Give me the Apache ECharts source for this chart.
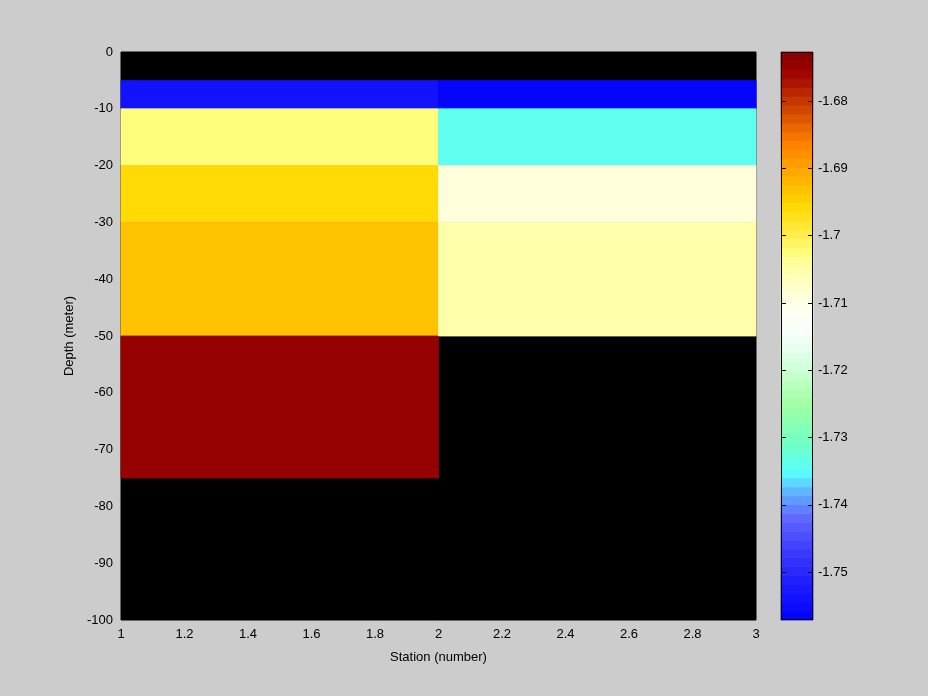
<!DOCTYPE html>
<html>
<head>
<meta charset="utf-8">
<script src="https://cdn.jsdelivr.net/npm/echarts@6/dist/echarts.min.js"></script>
<style>
html,body{margin:0;padding:0;background:#cccccc;}
#chart{width:928px;height:696px;}
</style>
</head>
<body>
<div id="chart"></div>
<script>
// ---- data ----
const stations = [1, 2, 3];
const depths = [0, -5, -10, -20, -30, -50, -75, -100];
// value at each depth (cell from this depth down to next depth), per station column
const tempStation1 = [null, -1.7537, -1.7027, -1.6955, -1.6938, -1.6748, null, null];
const tempStation2 = [null, -1.7567, -1.7340, -1.7090, -1.7056, null, null, null];
const colorLimits = [-1.7571, -1.6727];
const colorbarTicks = [-1.75, -1.74, -1.73, -1.72, -1.71, -1.70, -1.69, -1.68];
const xTickLabels = ['1', '1.2', '1.4', '1.6', '1.8', '2', '2.2', '2.4', '2.6', '2.8', '3'];

// ---- colormap (style) ----
const cmapPos = [0.00, 0.08, 0.14, 0.18, 0.22, 0.26, 0.31, 0.38, 0.45, 0.50, 0.55, 0.62, 0.645, 0.675, 0.73, 0.78, 0.84, 0.89, 0.92, 0.95, 0.97, 1.00];
const cmapCol = ['#0000ff', '#2424ff', '#4848ff', '#6068ff', '#60a8ff', '#58ffff', '#70ffc4', '#a0ffa4', '#d4ffdc', '#f4fffa', '#fffff0', '#ffffa8', '#ffff80', '#fff050', '#ffd800', '#ffb000', '#ff8000', '#d85000', '#c03000', '#aa1000', '#990000', '#880000'];
const NLEV = 64;
function hex2rgb(h){return [parseInt(h.slice(1,3),16),parseInt(h.slice(3,5),16),parseInt(h.slice(5,7),16)];}
const palette = [];
for (let k = 0; k < NLEV; k++) {
  const t = (k + 0.5) / NLEV;
  let i = 0;
  while (i < cmapPos.length - 2 && t > cmapPos[i + 1]) i++;
  const f = (t - cmapPos[i]) / (cmapPos[i + 1] - cmapPos[i]);
  const a = hex2rgb(cmapCol[i]), b = hex2rgb(cmapCol[i + 1]);
  const c = a.map((x, j) => Math.round(x + (b[j] - x) * f));
  palette.push('rgb(' + c.join(',') + ')');
}
function colorOf(v){
  const t = (v - colorLimits[0]) / (colorLimits[1] - colorLimits[0]);
  const idx = Math.max(0, Math.min(NLEV - 1, Math.floor(t * NLEV)));
  return palette[idx];
}

// ---- build cells ----
const columns = [tempStation1, tempStation2];
const cells = [];
for (let i = 0; i < columns.length; i++) {
  for (let j = 0; j < depths.length - 1; j++) {
    const v = columns[i][j];
    if (v === null) continue;
    cells.push([stations[i], stations[i + 1], depths[j], depths[j + 1], v]);
  }
}
const bins = [];
for (let k = 0; k < NLEV; k++) {
  const lo = colorLimits[0] + k * (colorLimits[1] - colorLimits[0]) / NLEV;
  const hi = colorLimits[0] + (k + 1) * (colorLimits[1] - colorLimits[0]) / NLEV;
  bins.push([0, 1, lo, hi, k]);
}

function rectItem(params, api, fill){
  const p0 = api.coord([api.value(0), api.value(2)]);
  const p1 = api.coord([api.value(1), api.value(3)]);
  return {
    type: 'rect',
    shape: {
      x: Math.min(p0[0], p1[0]), y: Math.min(p0[1], p1[1]),
      width: Math.abs(p1[0] - p0[0]), height: Math.abs(p1[1] - p0[1])
    },
    style: { fill: fill, stroke: fill, lineWidth: 0.8 }
  };
}

const FONT = 'Liberation Sans';
const chart = echarts.init(document.getElementById('chart'), null, {renderer: 'canvas'});
chart.setOption({
  backgroundColor: '#cccccc',
  animation: false,
  textStyle: { fontFamily: FONT },
  grid: [
    { left: 121, top: 52, width: 635, height: 568, show: true, backgroundColor: '#000000', borderColor: '#000000', borderWidth: 1 },
    { left: 781, top: 52, width: 32, height: 568, show: false }
  ],
  xAxis: [
    {
      type: 'value', gridIndex: 0, min: 1, max: 3, interval: 0.2,
      name: 'Station (number)', nameLocation: 'middle', nameGap: 31,
      nameTextStyle: { color: '#000', fontSize: 13, fontFamily: FONT },
      axisLine: { show: false }, splitLine: { show: false },
      axisTick: { show: false },
      axisLabel: { color: '#000', fontSize: 13, fontFamily: FONT, margin: 8,
        formatter: (v) => xTickLabels[Math.round((v - 1) / 0.2)] }
    },
    { type: 'value', gridIndex: 1, min: 0, max: 1, show: false }
  ],
  yAxis: [
    {
      type: 'value', gridIndex: 0, min: -100, max: 0, interval: 10,
      name: 'Depth (meter)', nameLocation: 'middle', nameGap: 38, nameRotate: 90,
      nameTextStyle: { color: '#000', fontSize: 13, fontFamily: FONT },
      axisLine: { show: false }, splitLine: { show: false },
      axisTick: { show: false },
      axisLabel: { color: '#000', fontSize: 13, fontFamily: FONT, margin: 8 }
    },
    {
      type: 'value', gridIndex: 1, position: 'right', min: colorLimits[0], max: colorLimits[1], z: 20,
      axisLine: { show: false, onZero: false },
      splitLine: { show: false },
      axisTick: { show: true, inside: true, length: 5, customValues: colorbarTicks, lineStyle: { color: '#000', width: 1 } },
      axisLabel: { show: true, customValues: colorbarTicks, color: '#000', fontSize: 13, fontFamily: FONT, margin: 5,
        formatter: (v) => String(+v.toFixed(2)) }
    },
    {
      type: 'value', gridIndex: 1, position: 'left', min: colorLimits[0], max: colorLimits[1], z: 20,
      axisLine: { show: false, onZero: false },
      splitLine: { show: false },
      axisTick: { show: true, inside: true, length: 5, customValues: colorbarTicks, lineStyle: { color: '#000', width: 1 } },
      axisLabel: { show: false }
    }
  ],
  series: [
    {
      type: 'custom', xAxisIndex: 0, yAxisIndex: 0, data: cells,
      encode: { x: [0, 1], y: [2, 3] },
      renderItem: (params, api) => rectItem(params, api, colorOf(api.value(4)))
    },
    {
      type: 'custom', xAxisIndex: 1, yAxisIndex: 1, data: bins,
      encode: { x: [0, 1], y: [2, 3] },
      renderItem: (params, api) => rectItem(params, api, palette[api.value(4)])
    }
  ],
  graphic: [
    { type: 'rect', x: 0, y: 0, shape: { x: 781.5, y: 52.5, width: 31, height: 567 }, style: { fill: null, stroke: '#000', lineWidth: 1 }, z: 100, silent: true }
  ]
});
</script>
</body>
</html>
